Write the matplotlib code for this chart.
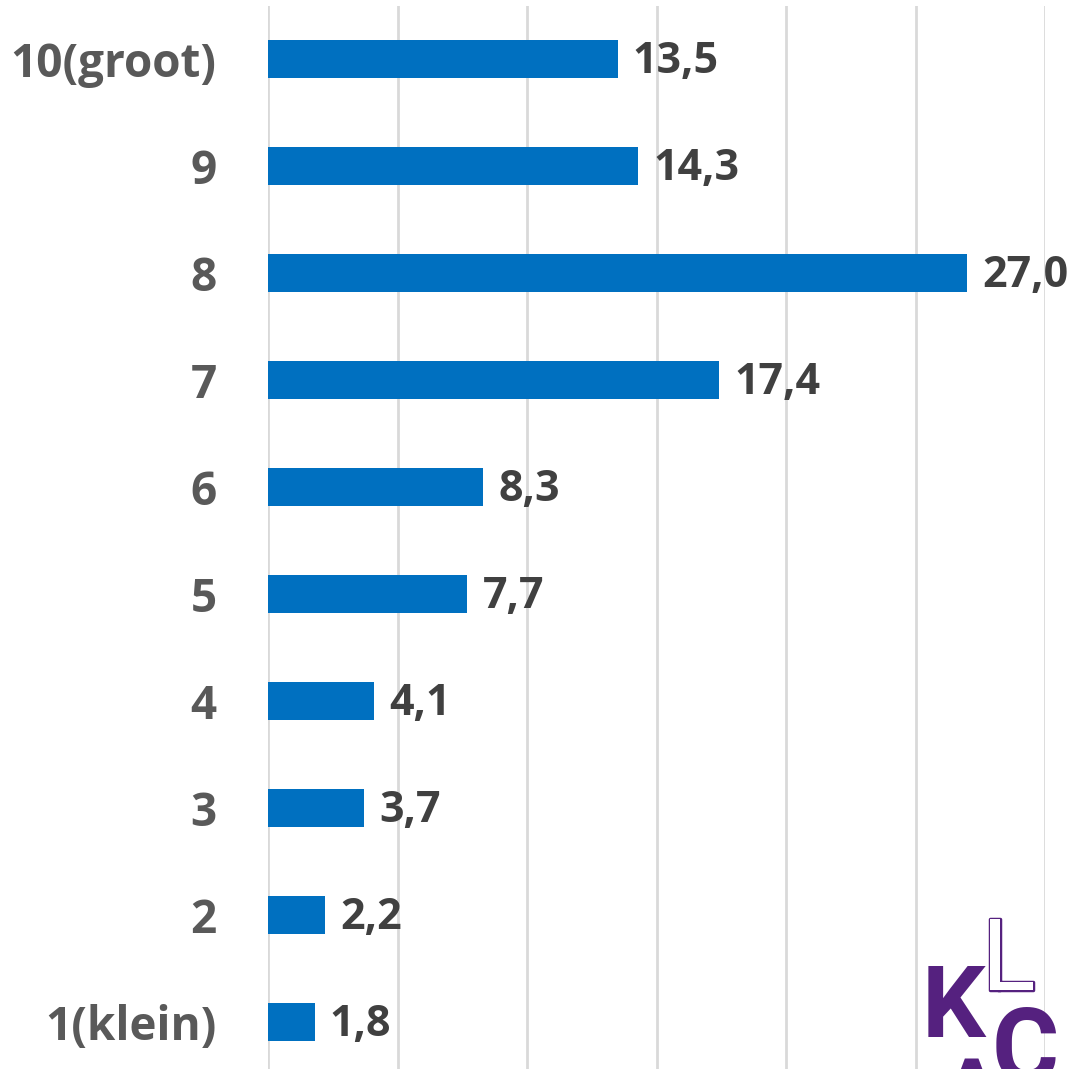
import numpy as np
import matplotlib
matplotlib.use("Agg")
import matplotlib.pyplot as plt
import matplotlib.patheffects as pe

categories = ["1(klein)", "2", "3", "4", "5", "6", "7", "8", "9", "10(groot)"]
values = [1.8, 2.2, 3.7, 4.1, 7.7, 8.3, 17.4, 27.0, 14.3, 13.5]

plt.rcParams['font.family'] = ['Open Sans', 'DejaVu Sans']

fig = plt.figure(figsize=(10.8, 10.69), dpi=100)
ax = fig.add_axes([268/1080, -6.5/1069, 777/1080, 1070/1069])

y = np.arange(len(categories))
ax.barh(y, values, height=0.35, color='#0070C0', zorder=3)

ax.set_xlim(0, 30)
ax.set_ylim(-0.5, len(categories) - 0.5)
ax.set_xticks(np.arange(0, 31, 5))
ax.xaxis.grid(True, color='#D9D9D9', linewidth=2, zorder=0)
ax.tick_params(axis='x', length=0, labelbottom=False)
ax.tick_params(axis='y', length=0, pad=37)
ax.set_yticks(y)
ax.set_yticklabels(categories, fontsize=33, fontweight='bold', color='#595959')
for s in ax.spines.values():
    s.set_visible(False)

for yi, v in zip(y, values):
    ax.annotate(f"{v:.1f}".replace(".", ","), xy=(v, yi), xytext=(11, -2),
                textcoords='offset points', va='center', ha='left',
                fontsize=31, fontweight='bold', color='#404040')

# logo in de hoek
purple = '#55217F'
fig.text(922/1080, 1 - 1037/1069, "K", fontsize=72, fontweight='bold',
         color=purple, family='Roboto', ha='left', va='baseline')
fig.text(982/1080, 1 - 990/1069, "L", fontsize=72, fontweight='normal',
         color='white', family='Roboto', ha='left', va='baseline',
         path_effects=[pe.withStroke(linewidth=2.5, foreground=purple)])
fig.text(992/1080, 1 - 1082/1069, "C", fontsize=74, fontweight='bold',
         color=purple, family='Roboto', ha='left', va='baseline')
fig.text(938/1080, 1 - 1130/1069, "A", fontsize=72, fontweight='bold',
         color=purple, family='Roboto', ha='left', va='baseline')

plt.savefig('out.png', dpi=100)
